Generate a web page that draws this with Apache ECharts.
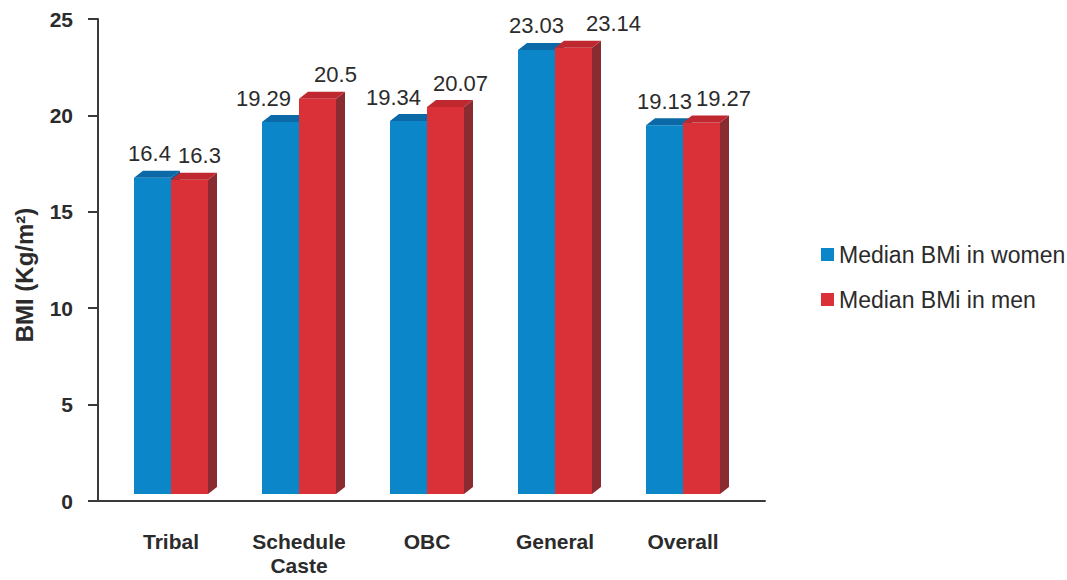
<!DOCTYPE html>
<html>
<head>
<meta charset="utf-8">
<title>Median BMI by social group</title>
<script src="https://cdn.jsdelivr.net/npm/echarts@6/dist/echarts.min.js"></script>
<style>
  html, body { margin: 0; padding: 0; background: #ffffff; overflow: hidden; }
  #chart { width: 1067px; height: 580px; }
</style>
</head>
<body>
<div id="chart"></div>
<script>
// Median BMI (kg/m²) by social group
const categories = ['Tribal', 'Schedule\nCaste', 'OBC', 'General', 'Overall'];
const womenBMI = [16.4, 19.29, 19.34, 23.03, 19.13];
const menBMI = [16.3, 20.5, 20.07, 23.14, 19.27];
const yTicks = [0, 5, 10, 15, 20, 25];

// horizontal nudges (px) that keep neighbouring value labels apart
const labelNudgeWomen = [-3, -17, -15, 0, 0];
const labelNudgeMen = [10, 18, 15, 40, 22];

const FONT = '"Liberation Sans", Arial, Helvetica, sans-serif';
const BAR_W = 37;     // width of one bar front face
const DEPTH_X = 9;    // 3D depth offset to the right
const DEPTH_Y = 7;    // 3D depth offset upward
const LIFT = 7;       // front faces sit slightly above the floor line

const palette = {
  women: { front: '#0b87c9', top: '#0a69a6', side: '#085a8f' },
  men:   { front: '#da3139', top: '#c0282f', side: '#8a2b32' }
};

function makeRenderer(side, colors, nudges) {
  return function (params, api) {
    const idx = api.value(0);
    const val = api.value(1);
    const topPt = api.coord([idx, val]);
    const basePt = api.coord([idx, 0]);
    const x0 = side === 'left' ? topPt[0] - BAR_W : topPt[0];
    const x1 = x0 + BAR_W;
    const yT = topPt[1] - LIFT;
    const yB = basePt[1] - LIFT;
    return {
      type: 'group',
      children: [
        {
          type: 'polygon',
          shape: { points: [[x1, yT], [x1 + DEPTH_X, yT - DEPTH_Y], [x1 + DEPTH_X, yB - DEPTH_Y], [x1, yB]] },
          style: { fill: colors.side }
        },
        {
          type: 'rect',
          shape: { x: x0, y: yT, width: BAR_W, height: yB - yT },
          style: { fill: colors.front }
        },
        {
          type: 'polygon',
          shape: { points: [[x0, yT], [x0 + DEPTH_X, yT - DEPTH_Y], [x1 + DEPTH_X, yT - DEPTH_Y], [x1, yT]] },
          style: { fill: colors.top }
        },
        {
          type: 'text',
          style: {
            text: String(val),
            x: (x0 + x1) / 2 + nudges[params.dataIndex],
            y: yT - 13,
            textAlign: 'center',
            textVerticalAlign: 'bottom',
            fill: '#2b2b2b',
            font: '22px ' + FONT
          }
        }
      ]
    };
  };
}

const chart = echarts.init(document.getElementById('chart'), null, { renderer: 'svg' });

chart.setOption({
  animation: false,
  backgroundColor: '#ffffff',
  legend: {
    orient: 'vertical',
    left: 816,
    top: 238,
    itemWidth: 13,
    itemHeight: 13,
    itemGap: 22,
    icon: 'rect',
    textStyle: { fontFamily: FONT, fontSize: 23, color: '#2b2b2b' },
    data: ['Median BMi in women', 'Median BMi in men']
  },
  grid: [
    { left: 107, width: 640, top: 19, bottom: 79, outerBoundsMode: 'none', containLabel: false },
    { left: 98, width: 667, top: 19, bottom: 79, outerBoundsMode: 'none', containLabel: false }
  ],
  xAxis: [
    {
      type: 'category',
      gridIndex: 0,
      data: categories,
      axisLine: { show: false },
      axisTick: { show: false },
      axisLabel: {
        margin: 28,
        fontFamily: FONT,
        fontSize: 21,
        fontWeight: 'bold',
        color: '#2b2b2b',
        lineHeight: 24,
        interval: 0
      }
    },
    {
      type: 'value',
      gridIndex: 1,
      min: 0,
      max: 1,
      axisLine: { show: true, lineStyle: { color: '#3a3a3a', width: 2 } },
      axisTick: { show: false },
      axisLabel: { show: false },
      splitLine: { show: false }
    }
  ],
  yAxis: [
    {
      type: 'value',
      gridIndex: 0,
      min: yTicks[0],
      max: yTicks[yTicks.length - 1],
      interval: yTicks[1] - yTicks[0],
      offset: 9,
      name: 'BMI (Kg/m²)',
      nameLocation: 'middle',
      nameRotate: 90,
      nameGap: 62,
      nameTextStyle: {
        fontFamily: FONT,
        fontSize: 24,
        fontWeight: 'bold',
        color: '#2b2b2b',
        padding: [0, 30, 0, 0]
      },
      axisLine: { show: true, lineStyle: { color: '#3a3a3a', width: 2 } },
      axisTick: { show: true, length: 10, lineStyle: { color: '#3a3a3a', width: 2 } },
      axisLabel: {
        margin: 25,
        fontFamily: FONT,
        fontSize: 21,
        fontWeight: 'bold',
        color: '#2b2b2b'
      },
      splitLine: { show: false }
    },
    {
      type: 'value',
      gridIndex: 1,
      show: false,
      min: 0,
      max: 1
    }
  ],
  series: [
    {
      name: 'Median BMi in women',
      type: 'custom',
      xAxisIndex: 0,
      yAxisIndex: 0,
      itemStyle: { color: palette.women.front },
      renderItem: makeRenderer('left', palette.women, labelNudgeWomen),
      data: womenBMI.map((v, i) => [i, v]),
      z: 2
    },
    {
      name: 'Median BMi in men',
      type: 'custom',
      xAxisIndex: 0,
      yAxisIndex: 0,
      itemStyle: { color: palette.men.front },
      renderItem: makeRenderer('right', palette.men, labelNudgeMen),
      data: menBMI.map((v, i) => [i, v]),
      z: 3
    }
  ]
});
</script>
</body>
</html>
